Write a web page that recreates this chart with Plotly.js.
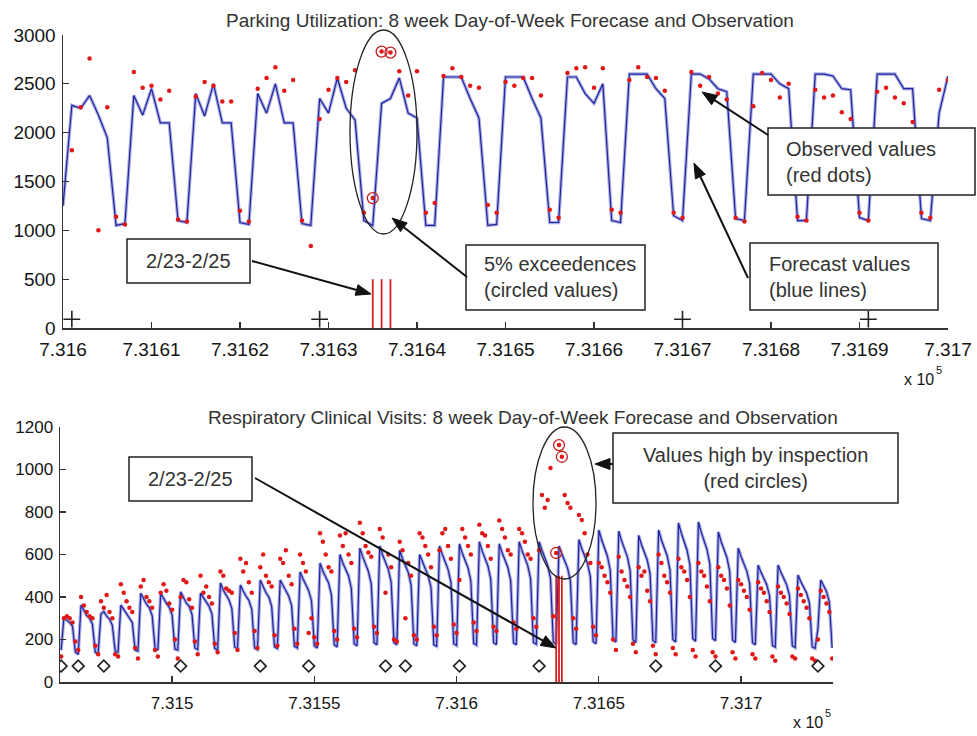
<!DOCTYPE html>
<html><head><meta charset="utf-8">
<script src="https://cdn.plot.ly/plotly-3.0.1.min.js"></script>
<style>html,body{margin:0;padding:0;background:#fff;}#chart{width:977px;height:736px;}</style>
</head><body><div id="chart"></div>
<script>
// ---------- TOP: Parking utilization (daily, MATLAB datenum) ----------
const topStartDay = 731600;
const parkingForecast = [
 1250,2280,2250,2380,2180,1950,1050,
 1070,2380,2180,2450,2100,2100,1100,
 1080,2400,2170,2500,2100,2100,1080,
 1060,2400,2200,2500,2100,2100,1070,
 1050,2350,2200,2560,2250,2130,1100,
 1050,2300,2350,2560,2200,2150,1050,
 1050,2570,2570,2570,2350,2150,1050,
 1060,2570,2570,2570,2350,2150,1080,
 1080,2570,2570,2400,2300,2500,1100,
 1080,2600,2600,2600,2450,2350,1150,
 1100,2600,2600,2550,2450,2420,1120,
 1100,2600,2600,2600,2500,2450,1100,
 1100,2600,2600,2580,2450,2440,1130,
 1100,2600,2600,2600,2450,2450,1120,
 1100,2200,2580];
const parkingObserved = [
 null,1820,2260,2760,1000,2260,1140,
 1060,2620,2460,2480,2340,2430,1110,
 1090,2370,2520,2480,2320,2320,1200,
 1090,2450,2560,2670,2430,2540,1100,
 840,2140,2440,2560,2520,2640,1180,
 1330,2830,2820,2630,2380,2630,1180,
 1280,2580,2660,2570,2480,2460,1260,
 1180,2520,2480,2560,2560,2380,1210,
 1130,2610,2660,2670,2460,2660,1210,
 1180,2540,2670,2570,2560,2430,1180,
 1130,2620,2480,2570,2400,2340,1130,
 1090,2270,2610,2540,2360,2500,1140,
 1100,2440,2360,2380,2210,2140,1180,
 1100,2420,2460,2360,2300,2110,1180,
 1130,2440,2540];
const parkingCircledDays = [731635, 731636, 731637];
const parkingHolidayDays = [731601, 731629, 731670, 731691];
const parkingHolidayLevel = 90;
const topXTickVals = [731600,731610,731620,731630,731640,731650,731660,731670,731680,731690,731700];
const topXTickText = ['7.316','7.3161','7.3162','7.3163','7.3164','7.3165','7.3166','7.3167','7.3168','7.3169','7.317'];
const topYTickVals = [0,500,1000,1500,2000,2500,3000];

// ---------- BOTTOM: Respiratory clinical visits ----------
const respStartDay = 731461;
const respForecast = [
 150,306,290,280,262,140,130,
 362,338,312,300,272,140,135,
 320,332,310,296,266,145,140,
 362,342,322,306,280,150,145,
 418,390,366,350,312,160,150,
 418,392,370,352,316,155,150,
 424,396,372,356,318,160,152,
 418,396,376,356,320,158,150,
 466,432,406,386,346,165,155,
 456,428,402,384,342,160,152,
 480,450,420,400,356,165,158,
 480,452,426,404,360,168,160,
 518,486,456,430,382,170,160,
 560,522,490,466,410,175,165,
 600,560,526,500,440,180,170,
 630,590,552,520,462,185,175,
 640,598,560,530,470,185,175,
 620,580,546,516,456,180,170,
 600,566,530,500,446,175,168,
 640,600,560,530,470,180,172,
 650,606,568,538,476,182,174,
 660,616,578,546,484,185,176,
 650,608,570,540,478,184,175,
 660,618,580,548,486,186,178,
 660,620,582,550,488,188,178,
 640,602,566,536,476,185,176,
 670,628,590,558,496,190,180,
 715,668,626,592,526,200,188,
 710,664,622,590,524,198,186,
 690,646,606,574,510,195,184,
 715,668,628,594,528,200,188,
 748,700,656,620,552,205,192,
 753,704,660,624,556,205,194,
 706,660,620,586,520,198,186,
 630,590,552,522,464,185,175,
 550,516,484,458,406,172,164,
 550,516,484,458,408,170,162,
 503,472,444,420,372,165,158,
 250,480,450,426,378,160];
const respObserved = [
 120,300,310,300,280,190,150,
 400,360,330,310,300,170,130,
 380,350,410,330,300,130,120,
 460,420,380,350,330,160,110,
 450,480,400,380,350,150,120,
 420,460,430,370,340,200,110,
 400,480,470,390,350,190,130,
 500,420,450,400,370,180,140,
 520,500,440,430,420,230,150,
 580,520,560,470,420,240,160,
 540,600,500,470,450,220,170,
 580,560,620,500,460,250,180,
 600,560,520,230,300,210,180,
 700,660,600,540,520,240,200,
 690,640,700,600,560,250,210,
 750,700,640,610,590,260,230,
 720,680,420,600,540,200,190,
 660,620,300,560,500,220,200,
 700,680,640,600,540,260,220,
 620,700,720,640,580,270,230,
 480,720,680,640,600,280,240,
 740,700,690,640,580,260,240,
 760,720,680,620,600,280,250,
 720,700,660,600,580,300,260,
 620,880,820,856,1007,310,607,
 1115,1060,880,842,820,300,250,
 786,762,700,600,560,260,220,
 560,540,500,470,420,200,150,
 590,520,480,450,400,180,140,
 540,500,520,430,380,170,130,
 600,560,500,470,420,160,130,
 580,540,520,480,400,150,120,
 560,520,500,450,380,140,120,
 540,500,480,440,360,140,110,
 480,460,430,400,340,130,110,
 470,440,420,380,330,120,100,
 450,420,400,370,320,120,110,
 440,410,380,350,300,110,100,
 200,430,400,370,330,110];
const respCircledDays = [731635, 731636, 731637];
const respHolidayDays = [731461,731467,731476,731503,731531,731548,731575,731582,731601,731629,731670,731691,731727];
const respHolidayLevel = 75;
const botXTickVals = [731500,731550,731600,731650,731700];
const botXTickText = ['7.315','7.3155','7.316','7.3165','7.317'];
const botYTickVals = [0,200,400,600,800,1000,1200];

// event (2/23-2/25)
const eventDays = [731635, 731636, 731637];
const eventLineTop = 500;

// ---------- helpers ----------
const W = 977, H = 736;
const X = px => px / W, Y = py => 1 - py / H;
const days = (start, arr) => arr.map((_, i) => start + i);
const pick = (start, arr, ds) => ds.map(d => arr[d - start]);
const vlines = (ds, top) => {
  const xs = [], ys = [];
  ds.forEach(d => { xs.push(d, d, null); ys.push(0, top, null); });
  return {x: xs, y: ys};
};
const FONT = 'Liberation Sans, Arial, Helvetica, sans-serif';

const blueHalo = '#aab0e4', blueLine = '#22229c', red = '#e01818';

function seriesTraces(xa, ya, start, fc, ob, circled, hol, holLevel, holSymbol, holSize) {
  const xs = days(start, fc);
  const ev = vlines(eventDays, eventLineTop);
  return [
    {x: xs, y: fc, xaxis: xa, yaxis: ya, mode: 'lines', line: {color: blueHalo, width: 3.4}, hoverinfo: 'skip'},
    {x: xs, y: fc, xaxis: xa, yaxis: ya, mode: 'lines', line: {color: blueLine, width: 1.2}},
    {x: ev.x, y: ev.y, xaxis: xa, yaxis: ya, mode: 'lines', line: {color: '#d82020', width: 1.8}},
    {x: days(start, ob), y: ob, xaxis: xa, yaxis: ya, mode: 'markers', marker: {color: red, size: 4.5, symbol: 'circle'}},
    {x: circled, y: pick(start, ob, circled), xaxis: xa, yaxis: ya, mode: 'markers', cliponaxis: false,
     marker: {color: '#c42020', size: 11, symbol: 'circle-open', line: {color: '#c42020', width: 1.3}}},
    {x: hol, y: hol.map(() => holLevel), xaxis: xa, yaxis: ya, mode: 'markers',
     marker: {color: '#222', size: holSize, symbol: holSymbol, line: {color: '#222', width: 1.6}}}
  ];
}

const data = [
  ...seriesTraces('x', 'y', topStartDay, parkingForecast, parkingObserved, parkingCircledDays, parkingHolidayDays, parkingHolidayLevel, 'cross-thin-open', 12),
  ...seriesTraces('x2', 'y2', respStartDay, respForecast, respObserved, respCircledDays, respHolidayDays, respHolidayLevel, 'diamond-open', 9)
];

const ax = (size) => ({
  showgrid: false, zeroline: false, showline: true, linecolor: '#333', linewidth: 1.5,
  ticks: 'inside', ticklen: 6, tickwidth: 1.3, tickcolor: '#333', mirror: false,
  tickfont: {family: FONT, size: size, color: '#151515'}, tickmode: 'array', fixedrange: true
});

const box = (x0, y0, x1, y1) => ({type: 'rect', xref: 'paper', yref: 'paper', x0: X(x0), x1: X(x1), y0: Y(y1), y1: Y(y0),
  fillcolor: '#fff', line: {color: '#222', width: 1.5}, layer: 'above'});
const ell = (x0, y0, x1, y1) => ({type: 'circle', xref: 'paper', yref: 'paper', x0: X(x0), x1: X(x1), y0: Y(y1), y1: Y(y0),
  line: {color: '#222', width: 1.3}, layer: 'above'});
const txt = (t, px, py, opts = {}) => Object.assign({text: t, xref: 'paper', yref: 'paper', x: X(px), y: Y(py), showarrow: false,
  xanchor: 'center', yanchor: 'middle', font: {family: FONT, size: 20, color: '#333'}}, opts);
// arrow drawn as a line plus a filled triangular head (pixel coordinates converted to paper)
function arrow(tx, ty, hx, hy) {
  const L = 15, hw = 5.5;
  const dx = hx - tx, dy = hy - ty, len = Math.hypot(dx, dy);
  const ux = dx / len, uy = dy / len, nx = -uy, ny = ux;
  const bx = hx - ux * L, by = hy - uy * L;
  return [
    {type: 'line', xref: 'paper', yref: 'paper', x0: X(tx), y0: Y(ty), x1: X(bx + ux * 2), y1: Y(by + uy * 2),
     line: {color: '#111', width: 2}, layer: 'above'},
    {type: 'path', xref: 'paper', yref: 'paper', layer: 'above', fillcolor: '#111', line: {color: '#111', width: 1},
     path: `M ${X(hx)} ${Y(hy)} L ${X(bx + nx * hw)} ${Y(by + ny * hw)} L ${X(bx - nx * hw)} ${Y(by - ny * hw)} Z`}
  ];
}
const expFont = {family: FONT, size: 16, color: '#151515'};
const supFont = {family: FONT, size: 11, color: '#151515'};

const layout = {
  width: W, height: H, margin: {l: 0, r: 0, t: 0, b: 0}, showlegend: false,
  paper_bgcolor: '#fff', plot_bgcolor: '#fff',
  xaxis: Object.assign(ax(19), {domain: [X(63), X(948)], range: [731600, 731700], tickvals: topXTickVals, ticktext: topXTickText, anchor: 'y', ticklabelstandoff: 4}),
  yaxis: Object.assign(ax(19), {domain: [Y(328), Y(35)], range: [0, 3000], tickvals: topYTickVals, anchor: 'x', ticklabelstandoff: 2}),
  xaxis2: Object.assign(ax(17), {domain: [X(60), X(833)], range: [731460.6, 731732.3], tickvals: botXTickVals, ticktext: botXTickText, anchor: 'y2', ticklabelstandoff: 5}),
  yaxis2: Object.assign(ax(17), {domain: [Y(682), Y(427)], range: [0, 1200], tickvals: botYTickVals, anchor: 'x2', ticklabelstandoff: 2}),
  shapes: [
    ell(350, 30, 417, 234),
    ell(533, 427, 596, 579),
    box(127, 239, 250, 283),
    box(466, 245, 645, 310),
    box(768, 128, 975, 195),
    box(750, 243, 938, 310),
    box(129, 457, 252, 501),
    box(613, 433, 898, 503),
    ...arrow(252, 261, 371, 294),
    ...arrow(467, 277, 392, 218),
    ...arrow(768, 135, 702, 92),
    ...arrow(748, 278, 694, 163),
    ...arrow(255, 478, 556, 648),
    ...arrow(613, 464, 595, 464)
  ],
  annotations: [
    txt('Parking Utilization: 8 week Day-of-Week Forecase and Observation', 510, 20, {font: {family: FONT, size: 19, color: '#333'}}),
    txt('Respiratory Clinical Visits: 8 week Day-of-Week Forecase and Observation', 523, 417, {font: {family: FONT, size: 19, color: '#333'}}),
    txt('x 10', 919, 379, {font: expFont}),
    txt('5', 939, 370, {font: supFont}),
    txt('x 10', 808, 722, {font: expFont}),
    txt('5', 828, 713, {font: supFont}),
    txt('2/23-2/25', 188, 261),
    txt('5% exceedences<br>(circled values)', 482, 277, {xanchor: 'left', align: 'left'}),
    txt('Observed values<br>(red dots)', 784, 162, {xanchor: 'left', align: 'left'}),
    txt('Forecast values<br>(blue lines)', 767, 277, {xanchor: 'left', align: 'left'}),
    txt('2/23-2/25', 190, 479),
    txt('Values high by inspection<br>(red circles)', 755, 468)
  ]
};

Plotly.newPlot('chart', data, layout, {staticPlot: true, displayModeBar: false});
</script>
</body></html>
